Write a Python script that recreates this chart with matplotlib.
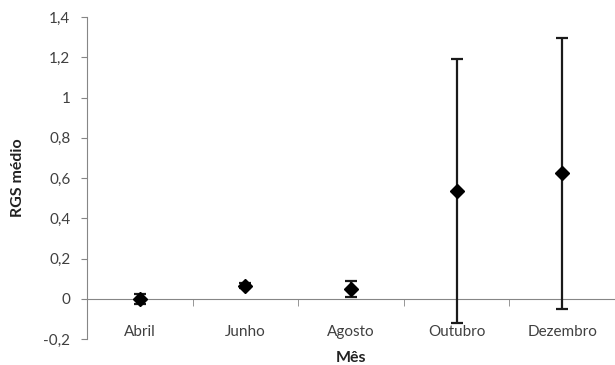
import matplotlib.pyplot as plt
import numpy as np

plt.rcParams['font.family'] = ['Lato', 'DejaVu Sans']

# data
meses = ['Abril', 'Junho', 'Agosto', 'Outubro', 'Dezembro']
rgs_medio = [0.0, 0.065, 0.048, 0.535, 0.623]
erro = [0.025, 0.012, 0.039, 0.655, 0.672]
y_ticks = [-0.2, 0, 0.2, 0.4, 0.6, 0.8, 1, 1.2, 1.4]

fig = plt.figure(figsize=(6.15, 3.65), dpi=100)
ax = fig.add_axes([0.1415, 0.0712, 0.8585, 0.8822])

x = np.arange(len(meses))
ax.errorbar(x, rgs_medio, yerr=erro, fmt='D', color='black', ecolor='#1a1a1a',
            markersize=7.5, elinewidth=1.6, capsize=4, capthick=1.6, clip_on=False, zorder=3)

ax.set_xlim(-0.5, len(meses) - 0.5)
ax.set_ylim(-0.2, 1.4)

grey = '#868686'
for s in ['top', 'right']:
    ax.spines[s].set_visible(False)
ax.spines['left'].set_color(grey)
ax.spines['bottom'].set_color(grey)
ax.spines['bottom'].set_position(('data', 0))

ax.set_yticks(y_ticks)
ax.set_yticklabels([('%g' % v).replace('.', ',') for v in y_ticks])
ax.tick_params(axis='y', direction='out', length=4, color=grey, labelsize=11,
               labelcolor='#404040', pad=8)

ax.set_xticks(x)
ax.set_xticklabels(meses)
ax.set_xticks(np.arange(0.5, len(meses) - 1, 1), minor=True)
ax.tick_params(axis='x', which='major', length=0, pad=19, labelsize=11, labelcolor='#404040')
ax.tick_params(axis='x', which='minor', direction='out', length=5, color=grey)

fig.text(0.5 * (0.1415 + 1.0), 1 - 358 / 365, 'Mês', ha='center', va='center',
         fontsize=11.5, fontweight='bold', color='#222222')
fig.text(18 / 615, 1 - 178 / 365, 'RGS médio', ha='center', va='center', rotation=90,
         fontsize=11.5, fontweight='bold', color='#222222')

fig.savefig('out.png', dpi=100)
